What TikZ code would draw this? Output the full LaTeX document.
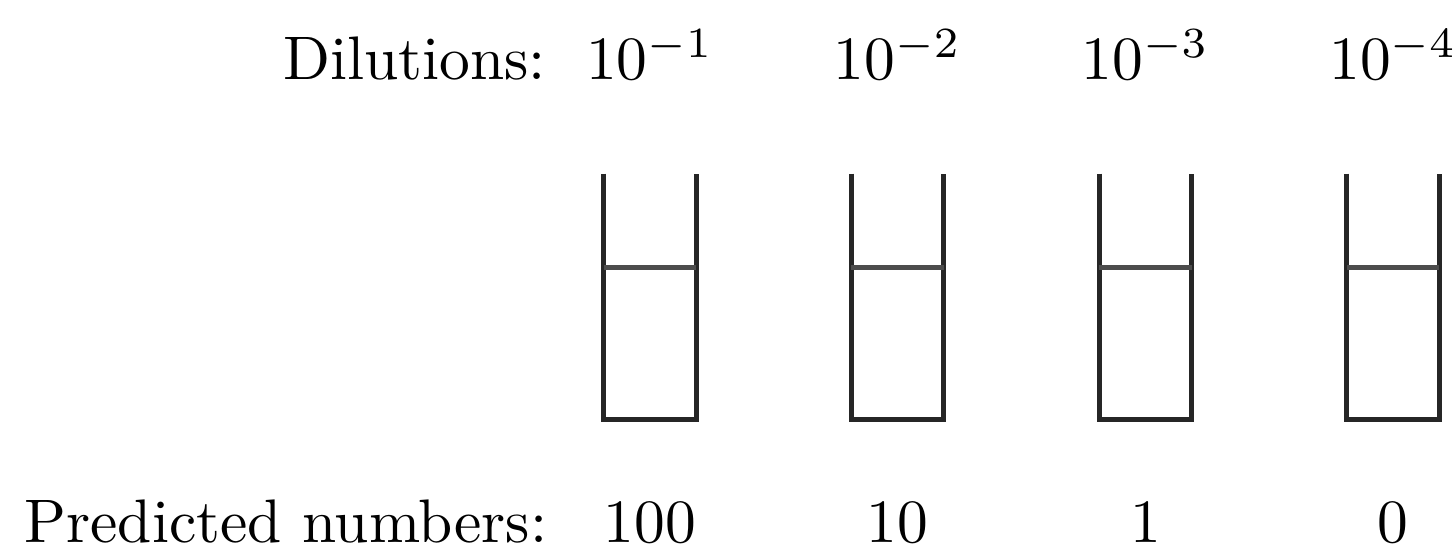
\documentclass[tikz,border=0pt]{standalone}
\usepackage{tikz}
\usetikzlibrary{positioning, calc}

\begin{document}
\begin{tikzpicture}[
        node distance=0.888cm,
        tube/.style={rectangle, minimum width=0.514cm, minimum height=1.389cm, inner sep=0pt},
        wall/.style={draw, thick, black!85},
        level/.style={draw, thick, black!70},
        label/.style={inner sep=0.118cm}
    ]
        \useasboundingbox (0,0) rectangle (8.31,-3.126);

        % Tubes
        \node[tube] (t1) at (3.714,-1.694) {};
        \node[tube, right=of t1] (t2) {};
        \node[tube, right=of t2] (t3) {};
        \node[tube, right=of t3] (t4) {};

        % Dilutions
        \node[label, above=0.413cm of t1] (d1) {$10^{-1}$};
        \node[label, above=0.413cm of t2] (d2) {$10^{-2}$};
        \node[label, above=0.413cm of t3] (d3) {$10^{-3}$};
        \node[label, above=0.413cm of t4] (d4) {$10^{-4}$};
        \node[label, base left=-0.02cm of d1] (dil) {Dilutions:};

        % Predicted numbers
        \node[label, below=0.345cm of t1] (n1) {100};
        \node[label, below=0.345cm of t2] (n2) {10};
        \node[label, below=0.345cm of t3] (n3) {1};
        \node[label, below=0.345cm of t4] (n4) {0};
        \node[label, base left=0.073cm of n1] (pred) {Predicted numbers:};

        % Tube walls (open top)
        \draw[wall] (t1.north west) |- (t1.south east) -- (t1.north east);
        \draw[wall] (t2.north west) |- (t2.south east) -- (t2.north east);
        \draw[wall] (t3.north west) |- (t3.south east) -- (t3.north east);
        \draw[wall] (t4.north west) |- (t4.south east) -- (t4.north east);

        % Liquid levels
        \draw[level] ($(t1.north west)!0.383!(t1.south west)$) -- ($(t1.north east)!0.383!(t1.south east)$);
        \draw[level] ($(t2.north west)!0.383!(t2.south west)$) -- ($(t2.north east)!0.383!(t2.south east)$);
        \draw[level] ($(t3.north west)!0.383!(t3.south west)$) -- ($(t3.north east)!0.383!(t3.south east)$);
        \draw[level] ($(t4.north west)!0.383!(t4.south west)$) -- ($(t4.north east)!0.383!(t4.south east)$);
    \end{tikzpicture}
\end{document}
